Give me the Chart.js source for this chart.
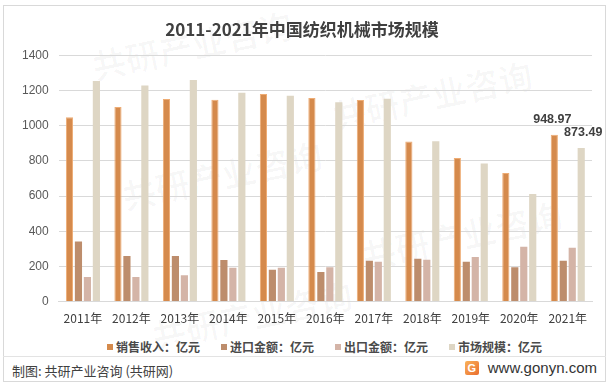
<!DOCTYPE html>
<html>
<head>
<meta charset="utf-8">
<script src="https://cdn.jsdelivr.net/npm/chart.js@4.4.1/dist/chart.umd.min.js"></script>
<style>
  html, body { margin: 0; padding: 0; background: #fff; }
  body { width: 613px; height: 390px; position: relative; overflow: hidden;
         font-family: "Noto Sans CJK SC", "Noto Sans", sans-serif; }
  .frame { position: absolute; left: 3px; top: 5px; width: 603px; height: 377px;
           border: 1px solid #d9d9d9; box-sizing: border-box; }
  .sep { position: absolute; left: 3px; top: 356px; width: 603px; height: 1px; background: #e3e3e3; }
  #wrap { position: absolute; left: 4px; top: 6px; width: 601px; height: 322px; }
  #legend { position: absolute; left: 107px; top: 339px; display: flex; font-size: 12px;
            color: #4a4a4a; font-weight: bold; line-height: 16px; }
  #legend .item { display: flex; align-items: center; margin-right: 21px; white-space: nowrap; }
  #legend .sw { width: 6px; height: 6px; margin-right: 3px; }
  .foot-l { position: absolute; left: 12px; top: 361px; font-size: 13px; color: #404040; }
  .foot-r { position: absolute; right: 16px; top: 359px; font-size: 15px; color: #333;
            font-family: "Liberation Sans", sans-serif; display: flex; align-items: center; }
  .logo { width: 14px; height: 14px; margin-right: 9px; border-radius: 2px;
          background: linear-gradient(135deg, #f9b25a, #ea6d2e); color: #fff; font-size: 11px;
          font-weight: bold; text-align: center; line-height: 14px; }
  .wm { position: absolute; color: rgba(0,0,0,0.028); font-size: 34px; font-weight: bold;
        transform: rotate(-12deg); white-space: nowrap; }
</style>
</head>
<body>
<div class="wm" style="left:90px;top:20px">共研产业咨询</div>
<div class="wm" style="left:330px;top:70px">共研产业咨询</div>
<div class="wm" style="left:120px;top:150px">共研产业咨询</div>
<div class="wm" style="left:360px;top:210px">共研产业咨询</div>
<div class="wm" style="left:150px;top:290px">共研产业咨询</div>
<div class="frame"></div>
<div class="sep"></div>
<div id="wrap"><canvas id="chart"></canvas></div>
<div id="legend"></div>
<div class="foot-l">制图: 共研产业咨询 (共研网)</div>
<div class="foot-r"><span class="logo">G</span>www.gonyn.com</div>
<script>
// ── Daten ────────────────────────────────────────────────────────────────────
const years   = ['2011年', '2012年', '2013年', '2014年', '2015年', '2016年',
                 '2017年', '2018年', '2019年', '2020年', '2021年'];
const sales   = [1048, 1106, 1152, 1148, 1181, 1158, 1146, 910, 817, 731, 948.97];
const imports = [342, 260, 260, 237, 181, 169, 233, 244, 227, 196, 233];
const exports = [140, 140, 150, 192, 192, 196, 227, 238, 254, 312, 306];
const market  = [1254, 1229, 1260, 1188, 1171, 1133, 1154, 912, 785, 612, 873.49];
const yTicks  = [0, 200, 400, 600, 800, 1000, 1200, 1400];

const labelled = years.length - 1;   // nur 2021 beschriftet

const lastLabel = {
  id: 'lastLabel',
  afterDatasetsDraw(chart) {
    const { ctx } = chart;
    ctx.save();
    ctx.font = 'bold 12.5px "Liberation Sans", sans-serif';
    ctx.fillStyle = '#404040';
    ctx.textAlign = 'center';
    ctx.textBaseline = 'bottom';
    [[0, -2], [3, 2]].forEach(([di, dx]) => {
      const bar = chart.getDatasetMeta(di).data[labelled];
      const v = chart.data.datasets[di].data[labelled];
      ctx.fillText(v.toFixed(2), bar.x + dx, bar.y - 9);
    });
    ctx.restore();
  },
};

const mk = (label, data, color, border) => ({
  label, data, backgroundColor: color,
  borderColor: border || color, borderWidth: border ? 1 : 0,
  categoryPercentage: 0.74, barPercentage: 0.8,
});

const datasets = [
  mk('销售收入：亿元', sales, '#d58a4c', '#eeac74'),
  mk('进口金额：亿元', imports, '#bd8d6c'),
  mk('出口金额：亿元', exports, '#d4b4a7'),
  mk('市场规模：亿元', market, '#ded6c4'),
];

// Legende als HTML (aus den Datasets erzeugt)
document.getElementById('legend').innerHTML = datasets.map(ds =>
  `<span class="item"><span class="sw" style="background:${ds.backgroundColor}"></span>${ds.label}</span>`
).join('');

new Chart(document.getElementById('chart'), {
  type: 'bar',
  data: { labels: years, datasets },
  options: {
    responsive: true, maintainAspectRatio: false, animation: false,
    layout: { padding: { left: 8, right: 13, top: 0, bottom: 0 } },
    plugins: {
      title: {
        display: true, text: '2011-2021年中国纺织机械市场规模',
        color: '#404040', font: { size: 17, weight: 'bold', family: '"Noto Sans CJK SC", sans-serif' },
        padding: { top: 13, bottom: 16 },
      },
      legend: { display: false },
      tooltip: { enabled: false },
    },
    scales: {
      y: {
        min: 0, max: 1400,
        afterBuildTicks: ax => { ax.ticks = yTicks.map(v => ({ value: v })); },
        grid: { color: '#d9d9d9', drawTicks: false },
        border: { display: false },
        ticks: { padding: 10, color: '#595959', callback: v => String(v),
                 font: { size: 12, family: '"Liberation Sans", sans-serif' } },
      },
      x: {
        grid: { display: false },
        border: { color: '#d9d9d9' },
        ticks: { padding: 2, color: '#404040', font: { size: 12, family: '"Noto Sans CJK SC", sans-serif' } },
      },
    },
  },
  plugins: [lastLabel],
});
</script>
</body>
</html>
